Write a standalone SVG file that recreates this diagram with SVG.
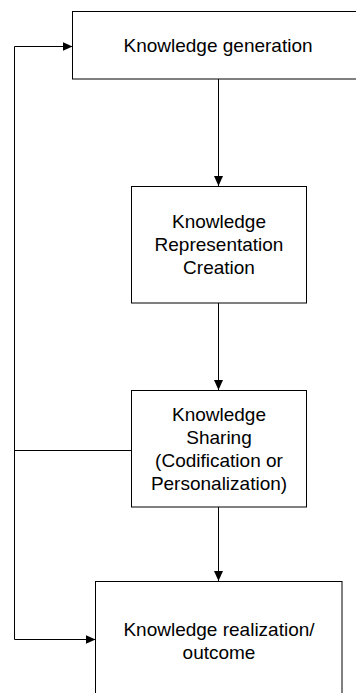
<svg xmlns="http://www.w3.org/2000/svg" width="356" height="693" viewBox="0 0 356 693">
<defs>
<style>
.box{fill:#fff;stroke:#000;stroke-width:1}
.t{font-family:"Liberation Sans",Arial,sans-serif;font-size:19px;fill:#000;text-anchor:middle}
.c{fill:none;stroke:#000;stroke-width:1}
</style>
<marker id="ah" markerWidth="10" markerHeight="10" viewBox="0 0 10 10" refX="10" refY="5" orient="auto" markerUnits="userSpaceOnUse">
<path d="M0,0.5 L10,5 L0,9.5 Z" fill="#000"/>
</marker>
</defs>
<rect width="356" height="693" fill="#fff"/>
<g id="connectors">
<line class="c" x1="218.5" y1="79" x2="218.5" y2="186" marker-end="url(#ah)"/>
<line class="c" x1="218.5" y1="303" x2="218.5" y2="390" marker-end="url(#ah)"/>
<line class="c" x1="218.5" y1="507" x2="218.5" y2="581" marker-end="url(#ah)"/>
<polyline class="c" points="131.5,450.5 14.5,450.5"/>
<polyline class="c" points="14.5,639.5 14.5,46.5 72.5,46.5" marker-end="url(#ah)"/>
<polyline class="c" points="14.5,639.5 95.5,639.5" marker-end="url(#ah)"/>
</g>
<g id="n1">
<rect class="box" x="72.5" y="11.5" width="300" height="67.5"/>
<text class="t" x="218" y="52">Knowledge generation</text>
</g>
<g id="n2">
<rect class="box" x="131.5" y="186.5" width="175" height="116.5"/>
<text class="t" x="219" y="228">Knowledge</text>
<text class="t" x="219" y="251">Representation</text>
<text class="t" x="219" y="274">Creation</text>
</g>
<g id="n3">
<rect class="box" x="131.5" y="390.5" width="175" height="116.5"/>
<text class="t" x="219" y="421">Knowledge</text>
<text class="t" x="219" y="443.5">Sharing</text>
<text class="t" x="219" y="466.5">(Codification or</text>
<text class="t" x="219" y="489.5">Personalization)</text>
</g>
<g id="n4">
<rect class="box" x="95.5" y="581.5" width="246.5" height="130"/>
<text class="t" x="219" y="636">Knowledge realization/</text>
<text class="t" x="219" y="659">outcome</text>
</g>
</svg>
